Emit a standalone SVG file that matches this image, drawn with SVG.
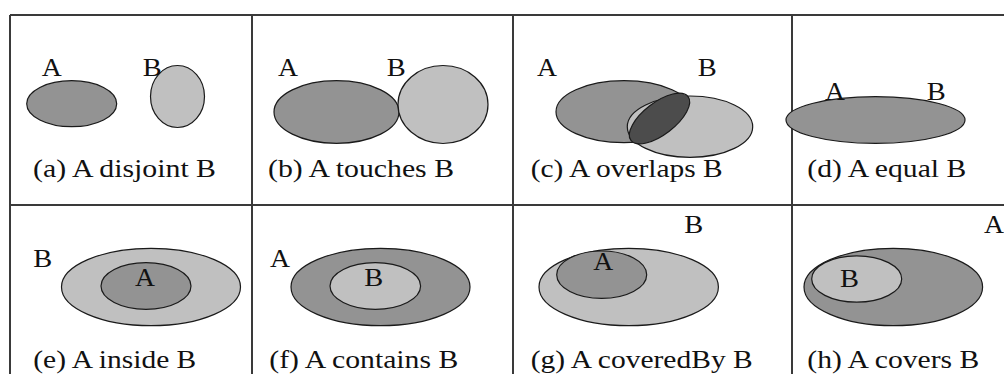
<svg xmlns="http://www.w3.org/2000/svg" width="1004" height="374" viewBox="0 0 1004 374">
<style>
.grid{stroke:#3a3a3a;stroke-width:2;fill:none}
.dk{fill:#939393;stroke:#1a1a1a;stroke-width:1.2}
.lt{fill:#c0c0c0;stroke:#1a1a1a;stroke-width:1.2}
.ov{fill:#4c4c4c;stroke:#1a1a1a;stroke-width:1.2}
text{font-family:"Liberation Serif","Times New Roman",serif;font-size:26px;fill:#111}
</style>
<rect width="1004" height="374" fill="#ffffff"/>
<g id="grid" class="grid">
<line x1="10" y1="15" x2="1004" y2="15"/>
<line x1="10" y1="205" x2="1004" y2="205"/>
<line x1="10" y1="15" x2="10" y2="374"/>
<line x1="252" y1="15" x2="252" y2="374"/>
<line x1="513" y1="15" x2="513" y2="374"/>
<line x1="792" y1="15" x2="792" y2="374"/>
</g>
<g id="panel-a">
<ellipse class="dk" cx="71.7" cy="103.7" rx="45" ry="23"/>
<ellipse class="lt" cx="177.5" cy="96.5" rx="27" ry="31"/>
<text x="41.7" y="76" textLength="20" lengthAdjust="spacingAndGlyphs">A</text>
<text x="142.7" y="76" textLength="19" lengthAdjust="spacingAndGlyphs">B</text>
<text x="33" y="177" textLength="183" lengthAdjust="spacingAndGlyphs">(a) A disjoint B</text>
</g>
<g id="panel-b">
<ellipse class="dk" cx="336.5" cy="112" rx="62.5" ry="31.3"/>
<ellipse class="lt" cx="443" cy="104.5" rx="45" ry="39"/>
<text x="278" y="76" textLength="20" lengthAdjust="spacingAndGlyphs">A</text>
<text x="386.7" y="76" textLength="19" lengthAdjust="spacingAndGlyphs">B</text>
<text x="268" y="177" textLength="186" lengthAdjust="spacingAndGlyphs">(b) A touches B</text>
</g>
<g id="panel-c">
<ellipse class="dk" cx="624" cy="111.7" rx="68" ry="31"/>
<ellipse class="lt" cx="690" cy="126.7" rx="62.7" ry="30.7"/>
<ellipse class="ov" cx="659.5" cy="118.5" rx="36" ry="16" transform="rotate(-37.5 659.5 118.5)"/>
<text x="537" y="76" textLength="20" lengthAdjust="spacingAndGlyphs">A</text>
<text x="697.7" y="76" textLength="19" lengthAdjust="spacingAndGlyphs">B</text>
<text x="530.7" y="177" textLength="192" lengthAdjust="spacingAndGlyphs">(c) A overlaps B</text>
</g>
<g id="panel-d">
<ellipse class="dk" cx="875.5" cy="120" rx="89.5" ry="23.3"/>
<text x="825" y="100" textLength="20" lengthAdjust="spacingAndGlyphs">A</text>
<text x="926.7" y="100" textLength="19" lengthAdjust="spacingAndGlyphs">B</text>
<text x="807.3" y="177" textLength="159" lengthAdjust="spacingAndGlyphs">(d) A equal B</text>
</g>
<g id="panel-e">
<ellipse class="lt" cx="151" cy="287" rx="89.5" ry="38.7"/>
<ellipse class="dk" cx="146" cy="286" rx="45" ry="23.3"/>
<text x="33.3" y="266.7" textLength="19" lengthAdjust="spacingAndGlyphs">B</text>
<text x="135" y="285.7" textLength="20" lengthAdjust="spacingAndGlyphs">A</text>
<text x="33.3" y="368" textLength="163" lengthAdjust="spacingAndGlyphs">(e) A inside B</text>
</g>
<g id="panel-f">
<ellipse class="dk" cx="380.5" cy="287" rx="89.5" ry="38.7"/>
<ellipse class="lt" cx="375.3" cy="286" rx="45.3" ry="23.3"/>
<text x="270" y="266.7" textLength="20" lengthAdjust="spacingAndGlyphs">A</text>
<text x="364.3" y="285.7" textLength="19" lengthAdjust="spacingAndGlyphs">B</text>
<text x="269.3" y="368" textLength="189" lengthAdjust="spacingAndGlyphs">(f) A contains B</text>
</g>
<g id="panel-g">
<ellipse class="lt" cx="628.7" cy="287" rx="89.7" ry="38.7"/>
<ellipse class="dk" cx="601.7" cy="274.7" rx="45" ry="23.7"/>
<text x="684.3" y="233.3" textLength="19" lengthAdjust="spacingAndGlyphs">B</text>
<text x="593.3" y="270" textLength="20" lengthAdjust="spacingAndGlyphs">A</text>
<text x="530.7" y="368" textLength="222" lengthAdjust="spacingAndGlyphs">(g) A coveredBy B</text>
</g>
<g id="panel-h">
<ellipse class="dk" cx="893.3" cy="287" rx="89.3" ry="38.7"/>
<ellipse class="lt" cx="856.7" cy="279" rx="45" ry="23.2"/>
<text x="984" y="233.3" textLength="20" lengthAdjust="spacingAndGlyphs">A</text>
<text x="840" y="286.7" textLength="19" lengthAdjust="spacingAndGlyphs">B</text>
<text x="807.3" y="368" textLength="172" lengthAdjust="spacingAndGlyphs">(h) A covers B</text>
</g>
</svg>
